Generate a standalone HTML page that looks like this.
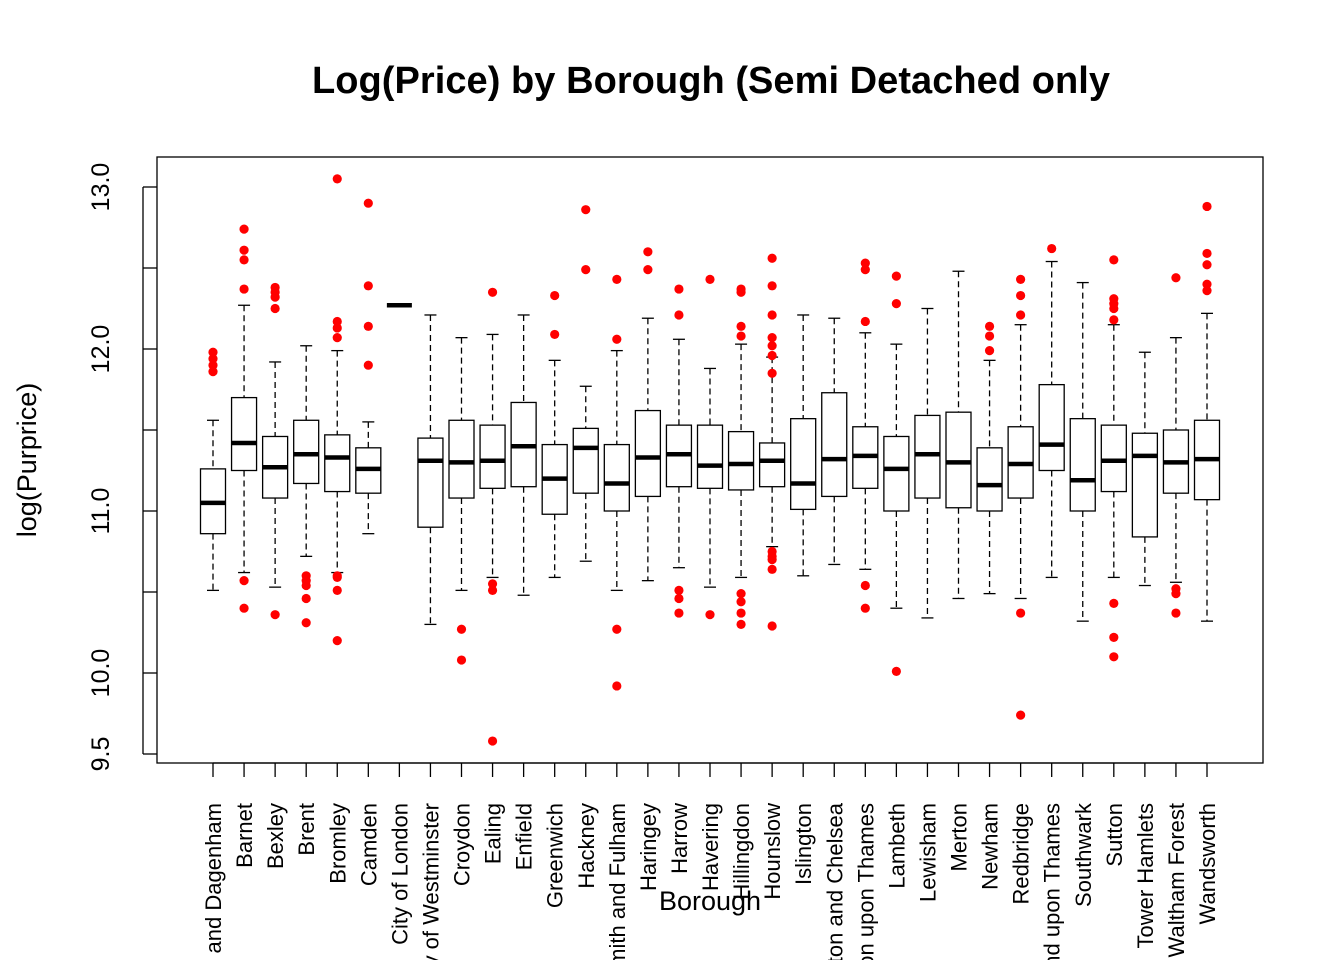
<!DOCTYPE html>
<html><head><meta charset="utf-8"><style>
html,body{margin:0;background:#fff;overflow:hidden;width:1344px;height:960px;}
svg{display:block;font-family:"Liberation Sans",Arial,sans-serif;}
</style></head><body>
<svg id="chart" width="1344" height="960" viewBox="0 0 1344 960">
<rect width="1344" height="960" fill="#fff"/>
<text x="711" y="93" text-anchor="middle" font-size="38" font-weight="bold" textLength="798">Log(Price) by Borough (Semi Detached only</text>
<rect x="157" y="157" width="1106" height="606" fill="none" stroke="#000" stroke-width="1.3"/>
<text transform="translate(36,460) rotate(-90)" text-anchor="middle" font-size="27">log(Purprice)</text>
<text x="710" y="910" text-anchor="middle" font-size="27">Borough</text>
<g id="yaxis"></g>
<g id="xaxis"></g>
<g id="boxes"></g>
</svg>
<script>
const boroughs=["Barking and Dagenham","Barnet","Bexley","Brent","Bromley","Camden","City of London","City of Westminster","Croydon","Ealing","Enfield","Greenwich","Hackney","Hammersmith and Fulham","Haringey","Harrow","Havering","Hillingdon","Hounslow","Islington","Kensington and Chelsea","Kingston upon Thames","Lambeth","Lewisham","Merton","Newham","Redbridge","Richmond upon Thames","Southwark","Sutton","Tower Hamlets","Waltham Forest","Wandsworth"];
const whiskerHi=[11.56,12.27,11.92,12.02,11.99,11.55,12.27,12.21,12.07,12.09,12.21,11.93,11.77,11.99,12.19,12.06,11.88,12.03,11.95,12.21,12.19,12.10,12.03,12.25,12.48,11.93,12.15,12.54,12.41,12.15,11.98,12.07,12.22];
const q3=[11.26,11.70,11.46,11.56,11.47,11.39,12.27,11.45,11.56,11.53,11.67,11.41,11.51,11.41,11.62,11.53,11.53,11.49,11.42,11.57,11.73,11.52,11.46,11.59,11.61,11.39,11.52,11.78,11.57,11.53,11.48,11.50,11.56];
const medians=[11.05,11.42,11.27,11.35,11.33,11.26,12.27,11.31,11.30,11.31,11.40,11.20,11.39,11.17,11.33,11.35,11.28,11.29,11.31,11.17,11.32,11.34,11.26,11.35,11.30,11.16,11.29,11.41,11.19,11.31,11.34,11.30,11.32];
const q1=[10.86,11.25,11.08,11.17,11.12,11.11,12.27,10.90,11.08,11.14,11.15,10.98,11.11,11.00,11.09,11.15,11.14,11.13,11.15,11.01,11.09,11.14,11.00,11.08,11.02,11.00,11.08,11.25,11.00,11.12,10.84,11.11,11.07];
const whiskerLo=[10.51,10.62,10.53,10.72,10.62,10.86,12.27,10.30,10.51,10.59,10.48,10.59,10.69,10.51,10.57,10.65,10.53,10.59,10.78,10.60,10.67,10.64,10.40,10.34,10.46,10.49,10.46,10.59,10.32,10.59,10.54,10.56,10.32];
const outliers=[
[11.98,11.94,11.90,11.86],
[12.74,12.61,12.55,12.37,10.57,10.40],
[12.38,12.35,12.32,12.25,10.36],
[10.60,10.57,10.54,10.46,10.31],
[13.05,12.17,12.13,12.07,10.60,10.59,10.51,10.20],
[12.90,12.39,12.14,11.90],
[],
[],
[10.27,10.08],
[12.35,10.55,10.51,9.58],
[],
[12.33,12.09],
[12.86,12.49],
[12.43,12.06,10.27,9.92],
[12.60,12.49],
[12.37,12.21,10.51,10.46,10.37],
[12.43,10.36],
[12.37,12.35,12.14,12.08,10.49,10.44,10.37,10.30],
[12.56,12.39,12.21,12.07,12.02,11.96,11.85,10.75,10.72,10.70,10.64,10.29],
[],
[],
[12.53,12.49,12.17,10.54,10.40],
[12.45,12.28,10.01],
[],
[],
[12.14,12.08,11.99],
[12.43,12.33,12.21,10.37,9.74],
[12.62],
[],
[12.55,12.31,12.28,12.25,12.18,10.43,10.22,10.10],
[],
[12.44,10.52,10.49,10.37],
[12.88,12.59,12.52,12.40,12.36]
];
const yTicks=[9.5,10,10.5,11,11.5,12,12.5,13];
const yTickLabels=["9.5","10.0","","11.0","","12.0","","13.0"];

const NS="http://www.w3.org/2000/svg";
function yScale(v){return 187+(13-v)*162;}
function xScale(i){return 213+i*(1207-213)/(boroughs.length-1);}
function mk(tag,attrs,parent){const e=document.createElementNS(NS,tag);for(const k in attrs)e.setAttribute(k,attrs[k]);parent.appendChild(e);return e;}

const ya=document.getElementById('yaxis');
mk('line',{x1:143,x2:143,y1:yScale(13),y2:yScale(9.5),stroke:'#000','stroke-width':1.3},ya);
yTicks.forEach((t,i)=>{
  const y=yScale(t);
  const l=mk('line',{x1:143,x2:157,y1:y,y2:y,stroke:'#000','stroke-width':1.3},ya);
  
  
  if(yTickLabels[i]){
    const tx=mk('text',{transform:`translate(109,${y}) rotate(-90)`,'text-anchor':'middle','font-size':25},ya);
    tx.textContent=yTickLabels[i];
    
    
  }
});

const xa=document.getElementById('xaxis');
mk('line',{x1:xScale(0),x2:xScale(boroughs.length-1),y1:763,y2:763,stroke:'#000','stroke-width':1.3},xa);
const bx=document.getElementById('boxes');
boroughs.forEach((b,i)=>{
  const x=xScale(i);
  const t=mk('line',{x1:x,x2:x,y1:763,y2:777,stroke:'#000','stroke-width':1.3},xa);
  
  
  const lab=mk('text',{transform:`translate(${x+8},803) rotate(-90)`,'text-anchor':'end','font-size':22},xa);
  lab.textContent=b;
  
  

  const g=mk('g',{},bx);
  
  
  const hw=12.5, cw=6;
  const yHi=yScale(whiskerHi[i]), yQ3=yScale(q3[i]), yM=yScale(medians[i]), yQ1=yScale(q1[i]), yLo=yScale(whiskerLo[i]);
  if(yQ1-yQ3>1){
    mk('line',{x1:x,x2:x,y1:yHi,y2:yQ3,stroke:'#000','stroke-width':1.3,'stroke-dasharray':'6,4'},g);
    mk('line',{x1:x,x2:x,y1:yQ1,y2:yLo,stroke:'#000','stroke-width':1.3,'stroke-dasharray':'6,4'},g);
    mk('line',{x1:x-cw,x2:x+cw,y1:yHi,y2:yHi,stroke:'#000','stroke-width':1.3},g);
    mk('line',{x1:x-cw,x2:x+cw,y1:yLo,y2:yLo,stroke:'#000','stroke-width':1.3},g);
    mk('rect',{x:x-hw,y:yQ3,width:2*hw,height:yQ1-yQ3,fill:'#fff',stroke:'#000','stroke-width':1.3},g);
  }
  mk('line',{x1:x-hw,x2:x+hw,y1:yM,y2:yM,stroke:'#000','stroke-width':4.5},g);
  outliers[i].forEach(v=>{
    const c=mk('circle',{cx:x,cy:yScale(v),r:4.6,fill:'#ff0000'},g);
    
    
  });
});
</script>
</body></html>
